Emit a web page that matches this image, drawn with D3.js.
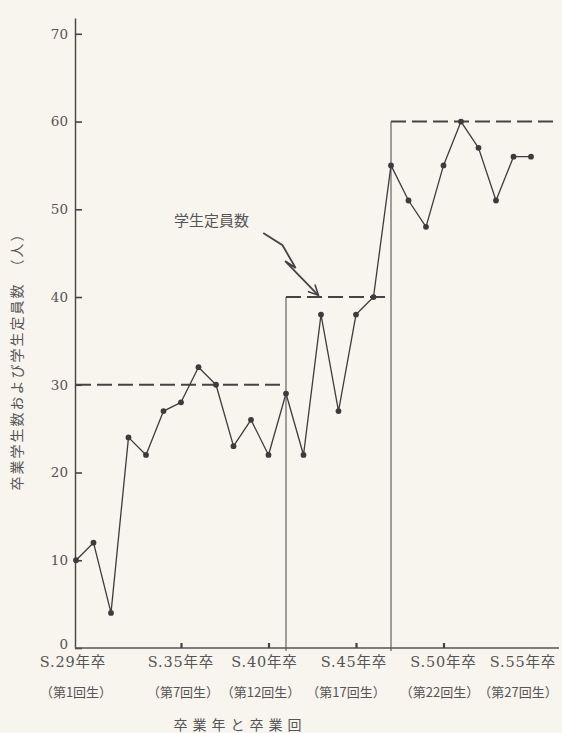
<!DOCTYPE html>
<html lang="ja">
<head>
<meta charset="utf-8">
<title>卒業学生数および学生定員数</title>
<script src="https://d3js.org/d3.v7.min.js"></script>
<style>
  body { margin: 0; background: #f8f4ee; }
  svg { display: block; }
  .num { font-family: "DejaVu Serif", "Noto Sans CJK JP", serif; fill: #555; }
  .jp { font-family: "Noto Sans CJK JP", sans-serif; fill: #555; }
</style>
</head>
<body>
<script>
    // graduation year (Showa) and number of graduates
    var years = [29, 30, 31, 32, 33, 34, 35, 36, 37, 38, 39, 40, 41, 42,
                 43, 44, 45, 46, 47, 48, 49, 50, 51, 52, 53, 54, 55];
    var graduates = [10, 12, 4, 24, 22, 27, 28, 32, 30, 23, 26, 22, 29, 22,
                     38, 27, 38, 40, 55, 51, 48, 55, 60, 57, 51, 56, 56];

    // student quota, as steps
    var quotaStart = [29, 41, 47];
    var quotaValues = [30, 40, 60];
    var quotaEnd = 56.6;

    var yTicks = [0, 10, 20, 30, 40, 50, 60, 70];
    var tickYears = [35, 40, 45, 50];
    var labelYears = [29, 35, 40, 45, 50, 55];
    var yearLabels = ["S.29年卒", "S.35年卒", "S.40年卒", "S.45年卒", "S.50年卒", "S.55年卒"];
    var classLabels = ["（第1回生）", "（第7回生）", "（第12回生）", "（第17回生）", "（第22回生）", "（第27回生）"];

    // annotation: text position and arrow points (year, value)
    var noteText = "学生定員数";
    var notePos = [34.6, 48.1];
    var arrowPts = [[39.7, 47.3], [40.8, 45.9], [41.55, 43.3], [40.95, 44.1], [42.85, 40.2]];

    var w = 562, h = 733;

    var svg = d3.select("body").append("svg")
        .attr("width", w)
        .attr("height", h);

    svg.append("rect")
        .attr("width", w).attr("height", h)
        .attr("fill", "#f8f4ee");

    var xScale = d3.scaleLinear().domain([29, 55]).range([76, 531]);
    var yScale = d3.scaleLinear().domain([0, 71.8]).range([648, 18]);

    //Y axis, ticks pointing inward
    var yAxis = d3.axisLeft(yScale)
        .tickValues(yTicks)
        .tickSizeInner(-7)
        .tickSizeOuter(0)
        .tickPadding(7);
    var gy = svg.append("g")
        .attr("transform", "translate(75,0)")
        .call(yAxis);
    gy.select(".domain").attr("stroke", "#444").attr("stroke-width", 1.4);
    gy.selectAll(".tick line").attr("stroke", "#444").attr("stroke-width", 1.6);
    gy.selectAll(".tick text")
        .attr("class", "num")
        .attr("font-size", "13.5px")
        .attr("fill", "#555")
        .attr("y", function(d) { return d === 0 ? -4 : 0; });

    //X axis line + small ticks
    var xAxis = d3.axisBottom(xScale)
        .tickValues(tickYears)
        .tickSizeInner(-5)
        .tickSizeOuter(0)
        .tickFormat("");
    var gx = svg.append("g")
        .attr("transform", "translate(0," + yScale(0) + ")")
        .call(xAxis);
    gx.select(".domain")
        .attr("d", "M" + 75 + ",0H" + xScale(quotaEnd))
        .attr("stroke", "#555").attr("stroke-width", 1.4);
    gx.selectAll(".tick line").attr("stroke", "#444").attr("stroke-width", 2.2);

    //x labels, two rows
    var row1Shift = [-3, 0, -4, -2, 0, -8];
    var row2Shift = [0, 2, -8, -10, -4, -13];
    svg.selectAll("text.yr")
        .data(labelYears)
        .enter()
        .append("text")
        .attr("class", "num yr")
        .attr("x", function(d, i) { return xScale(d) + row1Shift[i]; })
        .attr("y", 667)
        .attr("text-anchor", "middle")
        .attr("font-size", "14.5px")
        .attr("letter-spacing", "0.8px")
        .text(function(d, i) { return yearLabels[i]; });

    svg.selectAll("text.cls")
        .data(labelYears)
        .enter()
        .append("text")
        .attr("class", "jp cls")
        .attr("x", function(d, i) { return xScale(d) + row2Shift[i]; })
        .attr("y", 697)
        .attr("text-anchor", "middle")
        .attr("font-size", "13px")
        .text(function(d, i) { return classLabels[i]; });

    //axis titles
    svg.append("text")
        .attr("class", "jp")
        .attr("x", 240)
        .attr("y", 730)
        .attr("text-anchor", "middle")
        .attr("font-size", "14px")
        .attr("letter-spacing", "5px")
        .attr("fill", "#666")
        .text("卒業年と卒業回");

    svg.append("text")
        .attr("class", "jp")
        .attr("transform", "translate(22,358) rotate(-90)")
        .attr("text-anchor", "middle")
        .attr("font-size", "14px")
        .attr("letter-spacing", "2px")
        .text("卒業学生数および学生定員数　（人）");

    //quota: dashed levels and solid risers
    svg.selectAll("line.quota")
        .data(quotaValues)
        .enter()
        .append("line")
        .attr("class", "quota")
        .attr("x1", function(d, i) { return xScale(quotaStart[i]); })
        .attr("x2", function(d, i) {
            return xScale(i < quotaStart.length - 1 ? quotaStart[i + 1] : quotaEnd);
        })
        .attr("y1", function(d) { return yScale(d); })
        .attr("y2", function(d) { return yScale(d); })
        .attr("stroke", "#444")
        .attr("stroke-width", 2)
        .attr("stroke-dasharray", "15,6");

    svg.selectAll("line.riser")
        .data(quotaValues.slice(1))
        .enter()
        .append("line")
        .attr("class", "riser")
        .attr("x1", function(d, i) { return xScale(quotaStart[i + 1]); })
        .attr("x2", function(d, i) { return xScale(quotaStart[i + 1]); })
        .attr("y1", yScale(0) + 3)
        .attr("y2", function(d) { return yScale(d); })
        .attr("stroke", "#555")
        .attr("stroke-width", 1.1);

    //graduates line
    var pts = years.map(function(y, i) { return [y, graduates[i]]; });
    var line = d3.line()
        .x(function(d) { return xScale(d[0]); })
        .y(function(d) { return yScale(d[1]); });
    svg.append("path")
        .datum(pts)
        .attr("d", line)
        .attr("fill", "none")
        .attr("stroke", "#3c3c3c")
        .attr("stroke-width", 1.3)
        .attr("stroke-linejoin", "round");

    svg.selectAll("circle")
        .data(pts)
        .enter()
        .append("circle")
        .attr("cx", function(d) { return xScale(d[0]); })
        .attr("cy", function(d) { return yScale(d[1]); })
        .attr("r", 2.9)
        .attr("fill", "#3c3c3c");

    //annotation
    svg.append("text")
        .attr("class", "jp")
        .attr("x", xScale(notePos[0]))
        .attr("y", yScale(notePos[1]))
        .attr("font-size", "15px")
        .text(noteText);

    svg.append("defs").append("marker")
        .attr("id", "head")
        .attr("viewBox", "0 0 12 12")
        .attr("refX", 11).attr("refY", 6)
        .attr("markerWidth", 12).attr("markerHeight", 12)
        .attr("markerUnits", "userSpaceOnUse")
        .attr("orient", "auto")
        .append("path")
        .attr("d", "M1,1 L11,6 L1,11")
        .attr("fill", "none")
        .attr("stroke", "#444")
        .attr("stroke-width", 1.6);

    svg.append("path")
        .datum(arrowPts)
        .attr("d", line.curve(d3.curveLinear))
        .attr("fill", "none")
        .attr("stroke", "#444")
        .attr("stroke-width", 1.8)
        .attr("marker-end", "url(#head)");
</script>
</body>
</html>
